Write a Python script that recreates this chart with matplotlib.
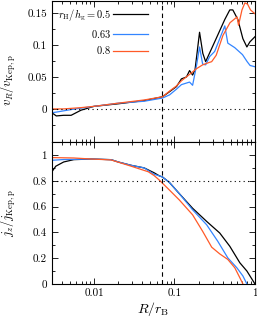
import numpy as np
import matplotlib
matplotlib.use("Agg")
import matplotlib.pyplot as plt
from matplotlib.ticker import FixedLocator, FuncFormatter, LogLocator, NullFormatter

plt.rcParams['font.family'] = 'serif'
plt.rcParams['font.serif'] = ['cmr10', 'DejaVu Serif']
plt.rcParams['mathtext.fontset'] = 'cm'
plt.rcParams['axes.formatter.use_mathtext'] = True

# radial velocity, v_R / v_Kep,p
R_v_black = [0.003, 0.0034, 0.0042, 0.0052, 0.0069, 0.01, 0.02, 0.042, 0.071, 0.087, 0.106, 0.122,
             0.141, 0.154, 0.168, 0.18, 0.205, 0.225, 0.244, 0.316, 0.422, 0.487, 0.531, 0.613,
             0.708, 0.794, 0.866, 1.0]
v_black = [-0.006, -0.011, -0.010, -0.010, -0.002, 0.004, 0.008, 0.013, 0.019, 0.027, 0.035, 0.047,
           0.050, 0.060, 0.053, 0.061, 0.120, 0.087, 0.074, 0.105, 0.140, 0.155, 0.155, 0.140,
           0.110, 0.097, 0.105, 0.113]

R_v_blue = [0.003, 0.0034, 0.0052, 0.01, 0.02, 0.042, 0.071, 0.087, 0.106, 0.122, 0.154, 0.168,
            0.188, 0.205, 0.224, 0.244, 0.274, 0.316, 0.36, 0.422, 0.46, 0.56, 0.70, 0.80, 0.87, 1.0]
v_blue = [-0.006, -0.005, -0.001, 0.004, 0.009, 0.012, 0.017, 0.022, 0.031, 0.038, 0.042, 0.037,
          0.068, 0.097, 0.070, 0.069, 0.082, 0.090, 0.108, 0.130, 0.103, 0.096, 0.085, 0.074, 0.068, 0.066]

R_v_orange = [0.003, 0.0042, 0.0069, 0.01, 0.02, 0.042, 0.071, 0.087, 0.106, 0.122, 0.154, 0.188,
              0.224, 0.26, 0.29, 0.33, 0.40, 0.49, 0.60, 0.625, 0.69, 0.75, 0.81, 0.88, 1.0]
v_orange = [0.000, 0.000, 0.002, 0.004, 0.009, 0.014, 0.019, 0.028, 0.036, 0.044, 0.054, 0.063,
            0.069, 0.072, 0.074, 0.084, 0.115, 0.135, 0.144, 0.131, 0.155, 0.166, 0.164, 0.155, 0.149]

# specific angular momentum, j_z / j_Kep,p
R_j_black = [0.003, 0.00335, 0.0042, 0.0056, 0.0092, 0.0163, 0.02, 0.029, 0.042, 0.056, 0.065,
             0.0708, 0.0866, 0.115, 0.168, 0.251, 0.365, 0.487, 0.649, 0.794, 1.0]
j_black = [0.87, 0.913, 0.946, 0.964, 0.969, 0.964, 0.946, 0.92, 0.90, 0.862, 0.838,
           0.83, 0.787, 0.70, 0.587, 0.485, 0.395, 0.292, 0.164, 0.10, 0.0]

R_j_blue = [0.003, 0.0042, 0.0056, 0.0092, 0.0163, 0.02, 0.029, 0.042, 0.056, 0.065, 0.0708,
            0.0866, 0.115, 0.168, 0.251, 0.345, 0.46, 0.596, 0.708, 0.794]
j_blue = [0.959, 0.965, 0.966, 0.969, 0.964, 0.946, 0.92, 0.90, 0.85, 0.838, 0.83,
          0.787, 0.70, 0.575, 0.459, 0.331, 0.202, 0.125, 0.062, 0.0]

R_j_orange = [0.003, 0.0056, 0.0092, 0.0163, 0.029, 0.0473, 0.056, 0.065, 0.0866, 0.115, 0.168,
              0.224, 0.29, 0.365, 0.46, 0.562, 0.649, 0.708]
j_orange = [0.98, 0.977, 0.969, 0.962, 0.913, 0.87, 0.84, 0.805, 0.728, 0.651, 0.536,
            0.408, 0.285, 0.233, 0.19, 0.125, 0.048, 0.0]

labels = [r'$r_{\rm H}/h_{\rm g} = 0.5$', r'$0.63$', r'$0.8$']
colors = ['black', '#3385ff', '#ff5a28']
R_bondi_mark = 0.07

fig = plt.figure(figsize=(2.57, 3.23), dpi=100)
ax1 = fig.add_axes([0.202, 0.560, 0.790, 0.437])
ax2 = fig.add_axes([0.202, 0.121, 0.790, 0.439])

for R, v, c, l in zip([R_v_black, R_v_blue, R_v_orange], [v_black, v_blue, v_orange], colors, labels):
    ax1.plot(R, v, color=c, lw=0.9, label=l)
for R, j, c in zip([R_j_black, R_j_blue, R_j_orange], [j_black, j_blue, j_orange], colors):
    ax2.plot(R, j, color=c, lw=0.9)

ax1.axhline(0, color='black', ls=(0, (1, 3)), lw=0.8)
ax2.axhline(0.8, color='black', ls=(0, (1, 3)), lw=0.8)
for ax in (ax1, ax2):
    ax.axvline(R_bondi_mark, color='black', ls=(0, (4, 3)), lw=0.8)
    ax.set_xscale('log')
    ax.set_xlim(0.003, 1)
    ax.xaxis.set_minor_locator(LogLocator(subs=np.arange(2, 10)))
    ax.xaxis.set_minor_formatter(NullFormatter())
    ax.tick_params(which='both', direction='in', top=True, right=True, labelsize=8, width=0.6)
    ax.tick_params(which='major', length=4)
    ax.tick_params(which='minor', length=2)
    for s in ax.spines.values():
        s.set_linewidth(0.8)

fmt = FuncFormatter(lambda v, p: '%g' % v)

ax1.set_ylim(-0.052, 0.169)
ax1.yaxis.set_major_locator(FixedLocator([0, 0.05, 0.1, 0.15]))
ax1.yaxis.set_minor_locator(FixedLocator([-0.025, 0.025, 0.075, 0.125]))
ax1.yaxis.set_major_formatter(fmt)
ax1.tick_params(labelbottom=False)
ax1.set_ylabel(r'$v_R/v_{\rm Kep,p}$', fontsize=9)
ax1.yaxis.set_label_coords(-0.165, 0.44)
ax1.legend(loc='upper left', bbox_to_anchor=(0.0, 1.0), frameon=False, markerfirst=False,
           fontsize=7.5, handlelength=3.4, handletextpad=0.2, labelspacing=0.45,
           borderaxespad=0.2)

ax2.set_ylim(0, 1.1)
ax2.yaxis.set_major_locator(FixedLocator([0, 0.2, 0.4, 0.6, 0.8, 1.0]))
ax2.yaxis.set_minor_locator(FixedLocator([0.1, 0.3, 0.5, 0.7, 0.9]))
ax2.yaxis.set_major_formatter(fmt)
ax2.xaxis.set_major_formatter(fmt)
ax2.set_ylabel(r'$j_z/j_{\rm Kep,p}$', fontsize=9)
ax2.yaxis.set_label_coords(-0.165, 0.5)
ax2.set_xlabel(r'$R/r_{\rm B}$', fontsize=10, labelpad=1)

fig.savefig('out.png', dpi=100)
